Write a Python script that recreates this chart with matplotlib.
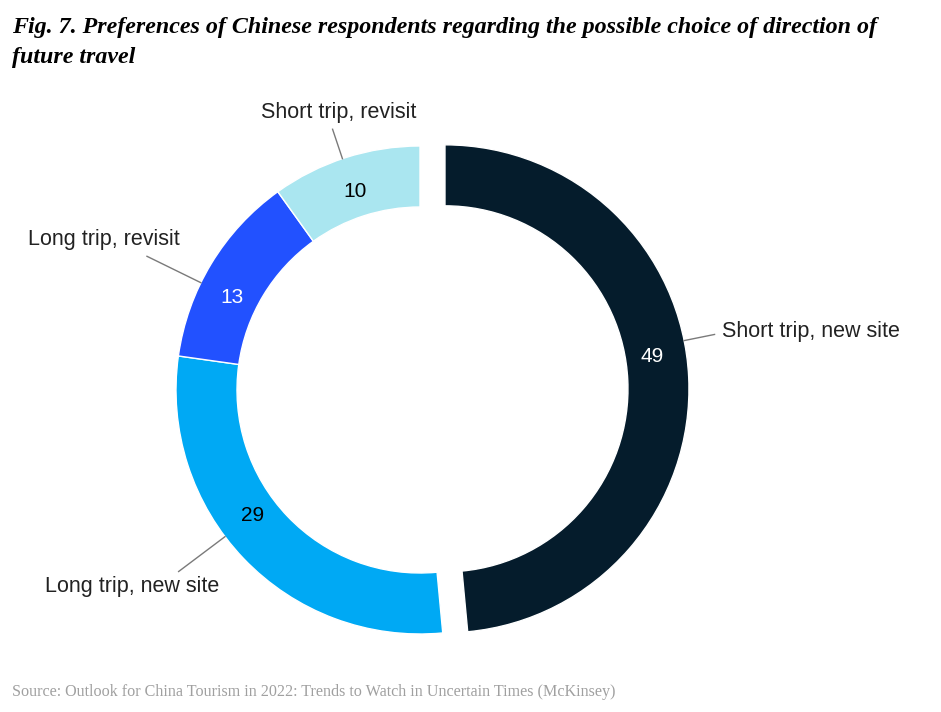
import numpy as np
import matplotlib
matplotlib.use("Agg")
import matplotlib.pyplot as plt

# data, in clockwise order from 12 o'clock
labels = ["Short trip, new site", "Long trip, new site", "Long trip, revisit", "Short trip, revisit"]
values = [49, 29, 13, 10]
colors = ["#051C2C", "#00A9F4", "#2251FF", "#AAE6F0"]
value_colors = ["white", "black", "white", "black"]

# where (fraction along each wedge) the leader line and the number sit
leader_pos = [0.45, 0.565, 0.39, 0.48]
value_pos = [0.465, 0.565, 0.39, 0.49]
leader_len = [31, 58, 60, 31]
# text offset from leader line end (px), alignment
text_off = [(7, 3, "left"), (-47, -15, "center"), (-43, 17, "center"), (6, 17, "center")]

W, H = 941, 712
fig = plt.figure(figsize=(W / 100, H / 100), dpi=100)
ax = fig.add_axes([0, 0, 1, 1])

cx, cy, R = 420, H - 390, 244
ring = 61

# explode is in data units here (px)
wedges, _ = ax.pie(values, colors=colors, startangle=90, counterclock=False,
                   radius=R, center=(cx, cy), explode=[25, 0, 0, 0],
                   wedgeprops=dict(width=ring, edgecolor="white", linewidth=1))
ax.set_xlim(0, W)
ax.set_ylim(0, H)
ax.set_aspect("auto")
ax.axis("off")

total = float(sum(values))
cum = np.concatenate([[0], np.cumsum(values)])
for i, w in enumerate(wedges):
    a0 = 90 - 360 * cum[i] / total
    a1 = 90 - 360 * cum[i + 1] / total
    wx, wy = w.center
    # value inside the ring
    va_ = np.radians(a0 + value_pos[i] * (a1 - a0))
    rm = w.r - ring * 0.57
    ax.text(wx + rm * np.cos(va_), wy + rm * np.sin(va_), str(values[i]),
            ha="center", va="center", fontsize=15, color=value_colors[i],
            family="Liberation Sans")
    # leader line
    ang = np.radians(a0 + leader_pos[i] * (a1 - a0))
    x0, y0 = wx + w.r * np.cos(ang), wy + w.r * np.sin(ang)
    r1 = w.r + leader_len[i]
    x1, y1 = wx + r1 * np.cos(ang), wy + r1 * np.sin(ang)
    ax.plot([x0, x1], [y0, y1], color="#7a7a7a", lw=1)
    dx, dy, ha = text_off[i]
    ax.text(x1 + dx, y1 + dy, labels[i], ha=ha, va="center", fontsize=15.5,
            color="#222222", family="Liberation Sans")

fig.text(12 / W, 1 - 27 / H, "Fig. 7. Preferences of Chinese respondents regarding the possible choice of direction of",
         ha="left", va="center", fontsize=17.3, family="Liberation Serif",
         weight="bold", style="italic")
fig.text(12 / W, 1 - 57 / H, "future travel",
         ha="left", va="center", fontsize=17.3, family="Liberation Serif",
         weight="bold", style="italic")
fig.text(12 / W, 1 - 692 / H,
         "Source: Outlook for China Tourism in 2022: Trends to Watch in Uncertain Times (McKinsey)",
         ha="left", va="center", fontsize=11.6, family="Liberation Serif", color="#a0a0a0")

fig.savefig("out.png", dpi=100)
